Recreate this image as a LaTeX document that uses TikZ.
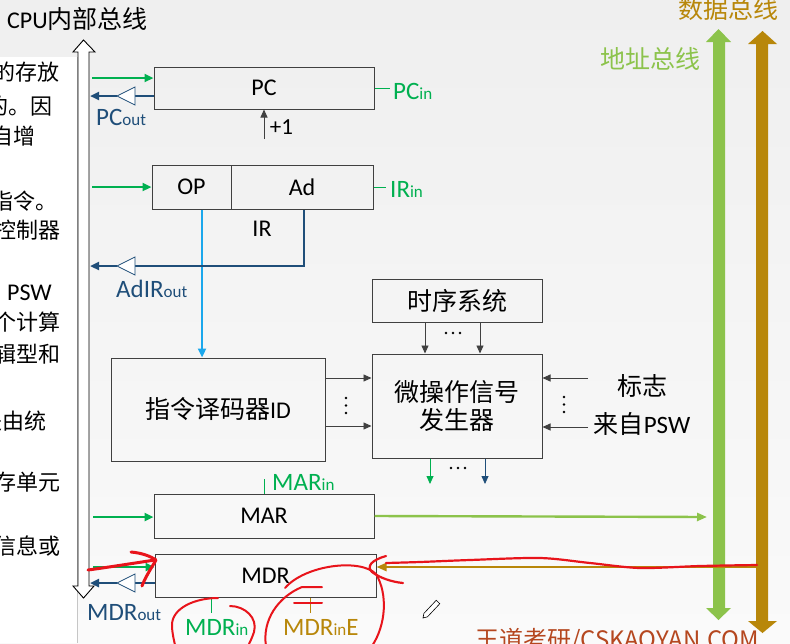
\documentclass[tikz,border=0pt]{standalone}
\usepackage{fontspec}
\setmainfont{Carlito}
\newfontfamily\cjk{Noto Sans CJK SC}
\usetikzlibrary{arrows.meta}
\newcommand\myfs[1]{\fontsize{#1pt}{#1pt}\selectfont}
\definecolor{bgtop}{HTML}{EFEFEF}
\definecolor{bgbot}{HTML}{FAFAFA}
\definecolor{boxc}{HTML}{404040}
\definecolor{gin}{HTML}{00B050}
\definecolor{navy}{HTML}{1F4E79}
\definecolor{cyanl}{HTML}{1AA7EC}
\definecolor{abus}{HTML}{8CC34B}
\definecolor{dbus}{HTML}{B8870A}
\definecolor{wm}{HTML}{B5471F}
\definecolor{redm}{HTML}{E8141B}
\tikzset{
  reg/.style={draw=boxc, line width=1pt, inner sep=0pt, font=\fontsize{24pt}{28pt}\selectfont},
  txt/.style={inner sep=0pt, font=\fontsize{24pt}{28pt}\selectfont},
  lefttxt/.style={anchor=east, inner sep=0pt, font=\cjk\myfs{22}},
  gsig/.style={draw=gin, line width=2.6pt, -{Triangle[length=9pt,width=8pt]}},
  nsig/.style={draw=navy, line width=2.6pt},
  narr/.style={draw=navy, line width=2.6pt, -{Triangle[length=9pt,width=8pt]}},
  cyl/.style={draw=cyanl, line width=2.6pt, -{Triangle[length=9pt,width=8pt]}},
  asig/.style={draw=abus, line width=2.4pt, -{Triangle[length=10pt,width=8pt]}},
  dsig/.style={draw=dbus, line width=2.6pt, -{Triangle[length=10pt,width=8pt]}},
  ctl/.style={draw=boxc, line width=0.9pt, -{Triangle[length=8pt,width=7pt]}},
  buf/.style={draw=navy, line width=0.8pt, fill=white},
  lbl/.style={anchor=base west, inner sep=0pt},
  tickg/.style={draw=gin, line width=0.7pt},
  tickd/.style={draw=dbus, line width=0.7pt},
  redstroke/.style={draw=redm, line width=2.4pt, line cap=round, line join=round},
  dot/.style={fill=black, draw=none}
}
\newcommand\bufftri[2]{\draw[buf] (#1+18,#2-9) -- (#1,#2) -- (#1+18,#2+9) -- cycle;}
\begin{document}
\begin{tikzpicture}[x=1pt,y=-1pt]
\useasboundingbox (0,0) rectangle (790,643);
\shade[top color=bgtop, bottom color=bgbot] (0,0) rectangle (790,643);

% left text panel (cut off at the left edge, as in the reference)
\fill[white] (0,57) rectangle (77,643);
\draw[gray!45, line width=0.6pt] (77,57) -- (77,643);
\begin{scope}
\clip (0,57) rectangle (76.5,643);
\node[lefttxt] (lt1) at (60,72) {中的存放};
\node[lefttxt] (lt2) at (53,106) {取指令的。因};
\node[lefttxt] (lt3) at (36,136) {有自增};
\node[lefttxt] (lt4) at (58,201) {当前的指令。};
\node[lefttxt] (lt5) at (61,230) {送至控制器};
\node[lefttxt, font=\myfs{24}] (lt6) at (52,293) {PSW};
\node[lefttxt] (lt7) at (61,322) {一个计算};
\node[lefttxt] (lt8) at (61,354) {逻辑型和};
\node[lefttxt] (lt9) at (47,421) {是由统};
\node[lefttxt] (lt10) at (61,482) {主存单元};
\node[lefttxt] (lt11) at (61,546) {的信息或};
\end{scope}

% CPU internal bus (hollow double arrow)
\draw[black, line width=0.9pt, fill=white] (78,52) -- (73,52) -- (83.5,40) -- (95,52) -- (89,52) -- (89,586) -- (94,586) -- (83.5,598) -- (73,586) -- (78,586) -- cycle;
\node[anchor=base west, inner sep=0pt] (cpul) at (7,28) {{\myfs{24}CPU}{\cjk\myfs{25}内部总线}};

% address bus and data bus
\fill[abus] (713,42) -- (706,42) -- (718.5,29) -- (731,42) -- (725,42) -- (725,608) -- (731,608) -- (718.5,620) -- (706,608) -- (713,608) -- cycle;
\fill[dbus] (756,44) -- (748,44) -- (762.5,31) -- (777,44) -- (768,44) -- (768,621) -- (777,621) -- (762.5,633) -- (748,621) -- (756,621) -- cycle;
\node[anchor=west, inner sep=0pt, text=abus, font=\cjk\myfs{25}] (abl) at (600,59) {地址总线};
\node[anchor=west, inner sep=0pt, text=dbus, font=\cjk\myfs{25}] (dbl) at (678,9) {数据总线};

% registers and units
\node[reg, minimum width=220pt, minimum height=42pt] (pc) at (264,88) {PC};
\node[reg, minimum width=79pt, minimum height=44pt] (op) at (191.5,187) {OP};
\node[reg, minimum width=142pt, minimum height=44pt] (ad) at (302,187) {Ad};
\node[txt] (irl) at (262,229) {IR};
\node[reg, minimum width=214pt, minimum height=103pt] (id) at (218,409.5) {{\cjk\myfs{25}指令译码器}ID};
\node[reg, minimum width=170pt, minimum height=43pt, font=\cjk\myfs{25}] (ts) at (457,300.5) {时序系统};
\node[reg, minimum width=170pt, minimum height=104pt, align=center, font=\cjk\fontsize{25pt}{28pt}\selectfont] (mo) at (457,406) {微操作信号\\发生器};
\node[reg, minimum width=220pt, minimum height=44pt] (mar) at (264,516) {MAR};
\node[reg, minimum width=221pt, minimum height=43pt] (mdr) at (265.5,575.5) {MDR};

% signal labels
\node[lbl, text=gin] (pcin) at (393,99) {{\myfs{25}PC}{\myfs{17}in}};
\node[lbl, text=navy] (pcout) at (96,125) {{\myfs{25}PC}{\myfs{17}out}};
\node[lbl, text=gin] (irin) at (390,197) {{\myfs{25}IR}{\myfs{17}in}};
\node[lbl, text=navy] (adirout) at (116,297) {{\myfs{25}AdIR}{\myfs{17}out}};
\node[lbl, text=gin] (marin) at (272,490) {{\myfs{25}MAR}{\myfs{17}in}};
\node[lbl, text=navy] (mdrout) at (87,620) {{\myfs{25}MDR}{\myfs{17}out}};
\node[lbl, text=gin] (mdrin) at (185,635) {{\myfs{25}MDR}{\myfs{17}in}};
\node[lbl, text=dbus] (mdrine) at (283,635) {{\myfs{25}MDR}{\myfs{17}in}{\myfs{25}E}};
\node[txt, font=\myfs{23}] (plus) at (281.5,127) {+1};
\node[txt, font=\cjk\myfs{25}] (flg1) at (642,386) {标志};
\node[txt, font=\myfs{25}] (flg2) at (642,424) {{\cjk 来自}PSW};

% label ticks
\draw[tickg, shorten >=3pt] (pc.east) -- (pc.east -| pcin.west);
\draw[tickg, shorten >=4pt] (ad.east) -- (ad.east -| irin.west);
\draw[tickg] (mar.north) -- ++(0,-15);
\coordinate (mi) at (211,600);
\coordinate (mie) at (310,600);
\draw[tickg] (mi |- mdr.south) -- ++(0,15);
\draw[tickd] (mie |- mdr.south) -- ++(0,15);

% PC connections
\coordinate (b1) at (92,78);
\draw[gsig] (b1) -- (b1 -| pc.west);
\coordinate (b2) at (90,96);
\coordinate (t2) at (117,96);
\coordinate (t2b) at (135,96);
\draw[nsig] (pc.west |- b2) -- (t2b);
\bufftri{117}{96}
\draw[narr] (t2) -- (b2);
\coordinate (p1) at (264,139);
\draw[ctl] (p1) -- (p1 |- pc.south);

% IR connections
\coordinate (b3) at (92,187);
\draw[gsig] (b3) -- (b3 -| op.west);
\coordinate (adx) at (304,266);
\coordinate (t3) at (117,266);
\coordinate (t3b) at (135,266);
\coordinate (b4) at (90,266);
\coordinate (cx) at (202,300);
\draw[cyl] (cx |- op.south) -- (cx |- id.north);
\draw[nsig] (adx |- ad.south) -- (adx) -- (t3b);
\bufftri{117}{266}
\draw[narr] (t3) -- (b4);

% decoder / timing -> micro-op generator
\coordinate (r1) at (340,378);
\coordinate (r2) at (340,426);
\draw[ctl] (id.east |- r1) -- (mo.west |- r1);
\draw[ctl] (id.east |- r2) -- (mo.west |- r2);
\coordinate (c1) at (425,330);
\coordinate (c2) at (480,330);
\draw[ctl] (c1 |- ts.south) -- (c1 |- mo.north);
\draw[ctl] (c2 |- ts.south) -- (c2 |- mo.north);
\coordinate (f1) at (588,378);
\coordinate (f2) at (588,427);
\draw[ctl] (f1) -- (f1 -| mo.east);
\draw[ctl] (f2) -- (f2 -| mo.east);
\coordinate (o1) at (430,484);
\coordinate (o2) at (485,484);
\draw[ctl, draw=gin, line width=0.8pt] (o1 |- mo.south) -- (o1);
\draw[ctl, draw=navy, line width=0.8pt] (o2 |- mo.south) -- (o2);
% dots
\foreach \yy in {398,405.5,413} {\fill[dot] (346,\yy) circle (1.4pt); \fill[dot] (564,\yy-1) circle (1.4pt);}
\foreach \xx in {446,453,460} {\fill[dot] (\xx,333) circle (1.4pt); \fill[dot] (\xx+5,468) circle (1.4pt);}

% MAR / MDR connections
\coordinate (b5) at (93,517);
\draw[gsig] (b5) -- (b5 -| mar.west);
\coordinate (ab) at (707,517);
\draw[asig] (mar.east) -- (ab);
\coordinate (b6) at (93,567);
\draw[gsig] (b6) -- (b6 -| mdr.west);
\coordinate (b7) at (90,583);
\coordinate (t7) at (117,583);
\coordinate (t7b) at (135,583);
\draw[nsig] (mdr.west |- b7) -- (t7b);
\bufftri{117}{583}
\draw[narr] (t7) -- (b7);
\coordinate (db) at (757,567);
\draw[dsig] (db) -- (db -| mdr.east);

% watermark
\node[anchor=base west, inner sep=0pt, text=wm, font=\cjk\myfs{24}] (wmk) at (475,648) {王道考研/CSKAOYAN.COM};

% pencil cursor
\draw[black, line width=0.6pt, fill=white] (423,618) -- (427.5,616.8) -- (439.8,603.7) -- (436.2,600.3) -- (423.9,613.4) -- cycle;

% red hand-drawn marks
\draw[redstroke, line width=3pt] (88,570) .. controls (110,567) and (135,563) .. (155,560);
\draw[redstroke, line width=3pt] (131,552) .. controls (142,553) and (150,556) .. (156,560) .. controls (150,570) and (145,578) .. (142,586);
\draw[redstroke, line width=2pt] (218,598) .. controls (195,598) and (172,608) .. (172,625) .. controls (172,633) and (174,640) .. (175,645);
\draw[redstroke, line width=2pt] (230,606) .. controls (245,606) and (258,618) .. (254,632) .. controls (252,638) and (250,642) .. (248,646);
\draw[redstroke, line width=2pt] (322,587) -- (302,587) .. controls (278,597) and (262,620) .. (266,646);
\draw[redstroke, line width=2pt] (322,603) -- (294,603);
\draw[redstroke, line width=2pt] (285,588) .. controls (305,565) and (360,558) .. (376,574) .. controls (388,594) and (386,625) .. (372,646);
\draw[redstroke, line width=2.2pt] plot[smooth] coordinates {(757,565) (700,566) (640,568) (590,563) (540,558) (470,560) (420,562) (386,563)};
\draw[redstroke, line width=2.2pt] (386,556) .. controls (372,560) and (366,566) .. (372,572) .. controls (380,578) and (392,582) .. (403,583);
\end{tikzpicture}
\end{document}
